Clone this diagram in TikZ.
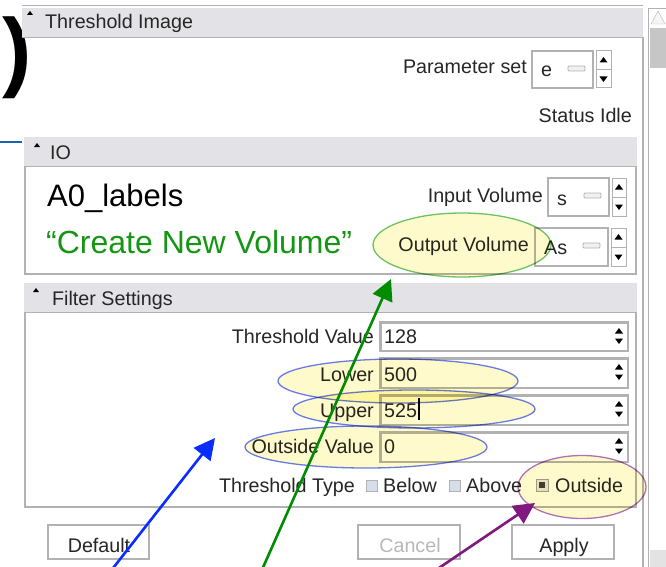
\documentclass[tikz,border=0pt]{standalone}
\usepackage{fontspec}
\setmainfont{Liberation Sans}
\usetikzlibrary{arrows.meta,shapes.geometric}

\definecolor{hdrgray}{RGB}{227,227,231}
\definecolor{linegray}{RGB}{178,178,180}
\definecolor{hilite}{RGB}{255,243,140}
\definecolor{ringgreen}{RGB}{110,195,110}
\definecolor{ringblue}{RGB}{105,125,255}
\definecolor{ringpurple}{RGB}{175,115,200}
\definecolor{arrblue}{RGB}{10,45,255}
\definecolor{arrgreen}{RGB}{0,140,0}
\definecolor{arrpurple}{RGB}{128,24,128}
\definecolor{textgreen}{RGB}{20,150,20}
\definecolor{linkblue}{RGB}{25,100,180}
\definecolor{boxtint}{RGB}{214,222,236}

\tikzset{
  gui/.style={font=\fontsize{19.7}{22}\selectfont, text=black!85, inner sep=0pt},
  large/.style={font=\fontsize{31}{36}\selectfont, inner sep=0pt},
  field/.style={draw=linegray, line width=1.2pt, fill=white},
  spinbox/.style={draw=linegray, line width=1pt, fill=white},
  knob/.style={draw=gray!60, fill=gray!12, line width=0.8pt, rounded corners=1pt},
  btn/.style={draw=linegray, line width=2pt, fill=white},
  chk/.style={draw=gray!60, fill=boxtint, line width=0.8pt},
  ring/.style={ellipse, line width=1.3pt, fill=hilite!45, blend mode=multiply, inner sep=0pt},
  note/.style={line width=2.6pt, -{Triangle[length=21pt,width=21pt]}},
}

% up/down arrows of a spinner: x, y of up arrow, y of down arrow
\newcommand{\updown}[3]{%
  \fill (#1-4,#2+2.5) -- (#1+4,#2+2.5) -- (#1,#2-3) -- cycle;
  \fill (#1-4,#3-2.5) -- (#1+4,#3-2.5) -- (#1,#3+3) -- cycle;
}
% sunken text field with spinner
\newcommand{\guifield}[4]{%
  \draw[field] (#1,#2) rectangle (#3,#4);
  \draw[gray!60, line width=1.6pt] (#1+1.5,#4-1) -- (#1+1.5,#2+1.5) -- (#3-1,#2+1.5);
  \updown{#3-9}{#2+9}{#2+19}
}
% combo box with its spinner column
\newcommand{\guicombo}[5]{%
  \draw[field] (#1,#3) rectangle (#2,#4);
  \draw[knob] (#2-25,#3+15) rectangle (#2-8,#3+20);
  \draw[spinbox] (#2+3,#3) rectangle (#5,#4);
  \draw[linegray] (#2+3,#3/2+#4/2) -- (#5,#3/2+#4/2);
  \updown{#2/2+#5/2+1.5}{#3+9}{#4-9}
}

\begin{document}
\begin{tikzpicture}[x=1pt,y=-1pt]
\useasboundingbox (0,0) rectangle (666,567);
\clip (0,0) rectangle (666,567);

% frame and scrollbar
\draw[linegray] (22,5) -- (643,5);
\draw[linegray, line width=1.2pt] (643,37) -- (643,570);
\draw[linegray, fill=white] (648,8) rectangle (670,570);
\fill[gray!45] (650,28) rectangle (670,68);
\draw[gray!55, fill=gray!8] (651,24) -- (665,24) -- (658,11) -- cycle;
\fill[gray!22] (650,550) rectangle (670,570);

\node[inner sep=0pt, anchor=base west, font=\fontsize{88}{88}\selectfont\bfseries] (paren) at (2,81) {)};
\draw[linkblue, line width=2.4pt] (0,142) -- (22,142);

% Threshold Image
\fill[hdrgray] (22,8) rectangle (643,37);
\draw[linegray] (22,37) -- (643,37);
\fill (27,15) -- (33,15) -- (30,11) -- cycle;
\node[gui, anchor=base west] (title) at (45,29) {Threshold Image};

\node[gui, anchor=base east] (paramLbl) at (527,74) {Parameter set};
\guicombo{532}{593}{51}{88}{611}
\node[gui, anchor=base west] (paramVal) at (541,77) {e};
\node[gui, anchor=base east] (status) at (632,123) {Status Idle};

% IO
\fill[hdrgray] (24,137) rectangle (637,166);
\draw[linegray] (24,166) -- (637,166);
\draw[linegray, line width=1.2pt] (25,166) -- (25,274) -- (636,274) -- (636,166);
\fill (34,147) -- (40,147) -- (37,143) -- cycle;
\node[gui, anchor=base west] (ioHdr) at (50,159) {IO};

\node[large, anchor=base west] (inName) at (47,206) {A0\_labels};
\node[large, anchor=base west, text=textgreen, font=\fontsize{32}{36}\selectfont] (outName) at (46,253) {“Create New Volume”};

\node[gui, anchor=base east] (inLbl) at (543,202) {Input Volume};
\guicombo{548}{609}{178}{216}{626}
\node[gui, anchor=base west] (inVal) at (557,205) {s};

\node[gui, anchor=base east] (outLbl) at (529,251) {Output Volume};
\guicombo{535}{608}{228}{266}{626}
\node[gui, anchor=base west] (outVal) at (544,254) {As};

% Filter Settings
\fill[hdrgray] (24,283) rectangle (637,312);
\draw[linegray] (24,312) -- (637,312);
\draw[linegray, line width=1.2pt] (25,312) -- (25,507) -- (636,507) -- (636,312);
\fill (33,292) -- (39,292) -- (36,288) -- cycle;
\node[gui, anchor=base west] (filtHdr) at (52,305) {Filter Settings};

\node[gui, anchor=base east] (thrLbl) at (374,343) {Threshold Value};
\guifield{380}{322}{628}{351}
\node[gui, anchor=base west] (thrVal) at (384,343) {128};

\node[gui, anchor=base east] (lowLbl) at (374,381) {Lower};
\guifield{380}{358}{628}{388}
\node[gui, anchor=base west] (lowVal) at (384,381) {500};

\node[gui, anchor=base east] (upLbl) at (374,417) {Upper};
\guifield{380}{395}{628}{425}
\node[gui, anchor=base west] (upVal) at (384,417) {525};
\draw[black, line width=1.2pt] (419,398) -- (419,420);

\node[gui, anchor=base east] (outsLbl) at (374,453) {Outside Value};
\guifield{380}{432}{628}{462}
\node[gui, anchor=base west] (outsVal) at (384,453) {0};

\node[gui, anchor=base east] (typeLbl) at (355,492) {Threshold Type};
\draw[chk] (366,480) rectangle (377,491);
\node[gui, anchor=base west] (belowLbl) at (383,492) {Below};
\draw[chk] (449,480) rectangle (460,491);
\node[gui, anchor=base west] (aboveLbl) at (466,492) {Above};
\draw[gray!75, fill=gray!20, line width=1pt] (536,479) rectangle (548,491);
\fill[black!75] (539,482) rectangle (545,488);
\node[gui, anchor=base west] (outsideLbl) at (555,492) {Outside};

% buttons
\draw[btn] (48,525) rectangle (149,559);
\node[gui, anchor=base] (defBtn) at (99,552) {Default};
\draw[btn] (358,525) rectangle (460,559);
\node[gui, anchor=base, text=gray!55] (canBtn) at (410,552) {Cancel};
\draw[btn] (512,525) rectangle (614,559);
\node[gui, anchor=base] (appBtn) at (564,552) {Apply};

% highlights
\node[ring, draw=ringblue, minimum width=240pt, minimum height=44pt] (lowRing) at (398,381) {};
\node[ring, draw=ringblue, minimum width=242pt, minimum height=38pt] (upRing) at (414,409) {};
\node[ring, draw=ringblue, minimum width=242pt, minimum height=42pt] (outsRing) at (366,447) {};
\node[ring, draw=ringgreen, minimum width=178pt, minimum height=64pt] (outRing) at (462,245) {};
\node[ring, draw=ringpurple, minimum width=128pt, minimum height=63pt] (typeRing) at (582,487) {};

% pointers
\coordinate (blueTip) at (215,438);
\coordinate (blueTail) at (110,572);
\coordinate (greenTip) at (391,279);
\coordinate (greenTail) at (261,572);
\coordinate (purpleTip) at (535,503);
\coordinate (purpleTail) at (433,572);
\draw[note, arrblue] (blueTail) -- (blueTip);
\draw[note, arrgreen] (greenTail) -- (greenTip);
\draw[note, arrpurple] (purpleTail) -- (purpleTip);
\end{tikzpicture}
\end{document}
